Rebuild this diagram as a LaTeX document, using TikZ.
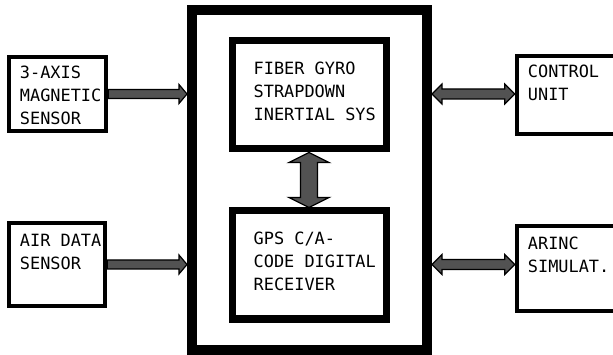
\documentclass[tikz,border=0pt]{standalone}
\usepackage{fontspec}
\newfontfamily\plotfont{DejaVu Sans Mono}
\usetikzlibrary{positioning,calc}

% fat hollow arrows between named points
\newcommand\hfat[2]{\draw[fatarrow] let \p1=(#1), \p2=(#2) in
  (\x1,\y1+4.5pt) -- (\x2-8pt,\y1+4.5pt) -- (\x2-8pt,\y1+9.5pt) -- (\x2,\y1)
  -- (\x2-8pt,\y1-9.5pt) -- (\x2-8pt,\y1-4.5pt) -- (\x1,\y1-4.5pt) -- cycle;}
\newcommand\hdfat[2]{\draw[fatarrow] let \p1=(#1), \p2=(#2) in
  (\x1,\y1) -- (\x1+10pt,\y1+10pt) -- (\x1+10pt,\y1+5pt) -- (\x2-10pt,\y1+5pt)
  -- (\x2-10pt,\y1+10pt) -- (\x2,\y1) -- (\x2-10pt,\y1-10pt) -- (\x2-10pt,\y1-5pt)
  -- (\x1+10pt,\y1-5pt) -- (\x1+10pt,\y1-10pt) -- cycle;}
\newcommand\vdfat[2]{\draw[fatarrow] let \p1=(#1), \p2=(#2) in
  (\x1,\y1) -- (\x1+20pt,\y1-10pt) -- (\x1+8.5pt,\y1-10pt) -- (\x1+8.5pt,\y2+10pt)
  -- (\x1+20pt,\y2+10pt) -- (\x1,\y2) -- (\x1-20pt,\y2+10pt) -- (\x1-8.5pt,\y2+10pt)
  -- (\x1-8.5pt,\y1-10pt) -- (\x1-20pt,\y1-10pt) -- cycle;}

\begin{document}
\begin{tikzpicture}[x=1pt,y=-1pt,
    sbox/.style={draw, line width=4.5pt, inner sep=0pt},
    ibox/.style={draw, line width=7pt, inner sep=0pt},
    frame/.style={draw, line width=10pt, inner sep=0pt},
    lbl/.style={inner sep=0pt, align=left, font=\plotfont\fontsize{16.9}{23}\selectfont},
    fatarrow/.style={draw=black, line width=1.2pt, fill=black!68, line join=miter}]
  \useasboundingbox (0,0) rectangle (613,355);
  \clip (0,0) rectangle (613,355);

  % outer unit and its two inner blocks
  \node[frame, minimum width=235, minimum height=340] (unit) at (309.5,180) {};
  \node[ibox, minimum width=154, minimum height=108] (fog) at (309,95) {};
  \node[ibox, minimum width=154, minimum height=108] (gps) at (309,265) {};
  \node[lbl, below right=24.5pt and 25pt of fog.north west] (fogtxt) {FIBER GYRO\\STRAPDOWN\\INERTIAL SYS};
  \node[lbl, below right=24.5pt and 25pt of gps.north west] (gpstxt) {GPS C/A-\\CODE DIGITAL\\RECEIVER};

  % sensors on the left
  \node[sbox, minimum width=97, minimum height=74] (magsens) at (57.5,94) {};
  \node[sbox, minimum width=96, minimum height=83] (airsens) at (57,264.5) {};
  \node[lbl, below right=11pt and 13pt of magsens.north west] (magtxt) {3-AXIS\\MAGNETIC\\SENSOR};
  \node[lbl, below right=13pt and 13pt of airsens.north west] (airtxt) {AIR DATA\\SENSOR};

  % units on the right
  \node[sbox, minimum width=126, minimum height=78] (ctrl) at (580,95) {};
  \node[sbox, minimum width=126, minimum height=85] (arinc) at (580,268.5) {};
  \node[lbl, below right=11pt and 13pt of ctrl.north west] (ctrltxt) {CONTROL\\UNIT};
  \node[lbl, below right=13pt and 13pt of arinc.north west] (arinctxt) {ARINC\\SIMULAT.};

  % links
  \hfat{magsens.east}{unit.west |- magsens.east}
  \hfat{airsens.east}{unit.west |- airsens.east}
  \hdfat{unit.east |- magsens.east}{ctrl.west |- magsens.east}
  \hdfat{unit.east |- airsens.east}{arinc.west |- airsens.east}
  \vdfat{fog.south}{gps.north}
\end{tikzpicture}
\end{document}
